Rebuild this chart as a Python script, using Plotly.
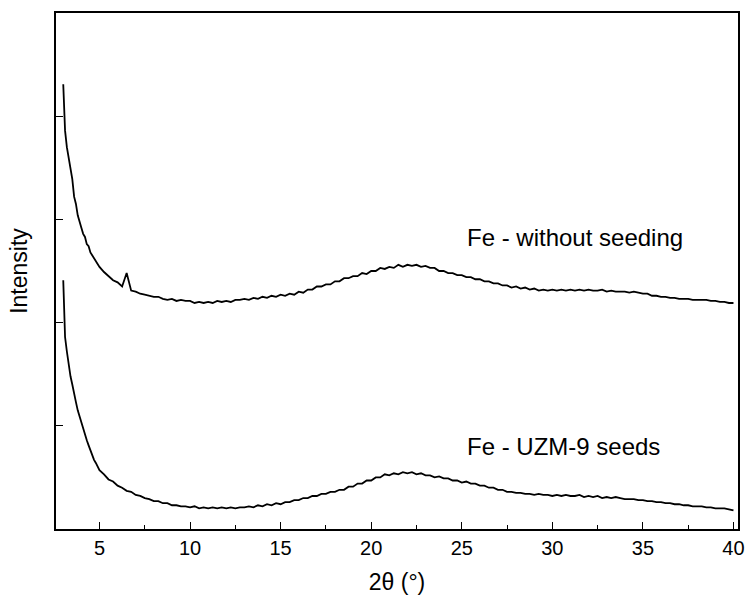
import plotly.graph_objects as go

# 2θ grid (degrees)
two_theta = ([3.0, 3.05, 3.1, 3.2, 3.3, 3.4, 3.5, 3.6, 3.7, 3.8, 3.9,
              4.0, 4.1, 4.2, 4.3, 4.4, 4.5, 4.6, 4.7, 4.8, 4.9, 5.0]
             + [5.0 + 0.25 * k for k in range(1, 141)])

# Intensity (a.u., stacked) – Fe without seeding
without_seeding = [
    4.31, 4.00, 3.86, 3.70, 3.60, 3.47, 3.39, 3.22, 3.15, 3.04, 2.97,
    2.92, 2.86, 2.83, 2.76, 2.74, 2.68, 2.65, 2.62, 2.59, 2.57, 2.54,
    2.49, 2.45, 2.41, 2.39,   # 5.25-6
    2.35, 2.48, 2.31, 2.30,   # 6.25-7
    2.28, 2.27, 2.26, 2.25,   # 7.25-8
    2.25, 2.23, 2.22, 2.23,   # 8.25-9
    2.21, 2.22, 2.21, 2.21,   # 9.25-10
    2.19, 2.20, 2.19, 2.20,   # 10.25-11
    2.19, 2.21, 2.20, 2.21,   # 11.25-12
    2.20, 2.22, 2.22, 2.23,   # 12.25-13
    2.22, 2.24, 2.23, 2.25,   # 13.25-14
    2.24, 2.26, 2.25, 2.27,   # 14.25-15
    2.26, 2.28, 2.27, 2.30,   # 15.25-16
    2.29, 2.32, 2.32, 2.35,   # 16.25-17
    2.35, 2.37, 2.37, 2.40,   # 17.25-18
    2.40, 2.43, 2.43, 2.45,   # 18.25-19
    2.45, 2.48, 2.47, 2.50,   # 19.25-20
    2.50, 2.53, 2.52, 2.54,   # 20.25-21
    2.53, 2.56, 2.54, 2.56,   # 21.25-22
    2.55, 2.56, 2.54, 2.55,   # 22.25-23
    2.53, 2.53, 2.50, 2.50,   # 23.25-24
    2.48, 2.48, 2.46, 2.46,   # 24.25-25
    2.44, 2.44, 2.42, 2.42,   # 25.25-26
    2.40, 2.40, 2.38, 2.38,   # 26.25-27
    2.36, 2.36, 2.34, 2.35,   # 27.25-28
    2.33, 2.34, 2.32, 2.33,   # 28.25-29
    2.31, 2.32, 2.31, 2.32,   # 29.25-30
    2.31, 2.32, 2.31, 2.32,   # 30.25-31
    2.31, 2.32, 2.31, 2.32,   # 31.25-32
    2.31, 2.31, 2.32, 2.30,   # 32.25-33
    2.31, 2.30, 2.30, 2.30,   # 33.25-34
    2.29, 2.30, 2.29, 2.28,   # 34.25-35
    2.28, 2.26, 2.26, 2.25,   # 35.25-36
    2.25, 2.24, 2.24, 2.23,   # 36.25-37
    2.23, 2.23, 2.22, 2.22,   # 37.25-38
    2.22, 2.22, 2.21, 2.21,   # 38.25-39
    2.20, 2.20, 2.19, 2.19,   # 39.25-40
]

# Intensity (a.u., stacked) – Fe with UZM-9 seeds
uzm9_seeds = [
    2.41, 2.01, 1.86, 1.72, 1.58, 1.48, 1.40, 1.30, 1.23, 1.15, 1.09,
    1.02, 0.97, 0.91, 0.86, 0.81, 0.76, 0.71, 0.67, 0.64, 0.60, 0.57,
    0.53, 0.48, 0.46, 0.42,   # 5.25-6
    0.40, 0.37, 0.36, 0.33,   # 6.25-7
    0.32, 0.30, 0.29, 0.27,   # 7.25-8
    0.27, 0.25, 0.25, 0.23,   # 8.25-9
    0.23, 0.22, 0.22, 0.21,   # 9.25-10
    0.22, 0.20, 0.21, 0.20,   # 10.25-11
    0.21, 0.20, 0.21, 0.20,   # 11.25-12
    0.21, 0.20, 0.21, 0.21,   # 12.25-13
    0.22, 0.21, 0.23, 0.22,   # 13.25-14
    0.24, 0.23, 0.25, 0.24,   # 14.25-15
    0.26, 0.26, 0.28, 0.28,   # 15.25-16
    0.30, 0.30, 0.32, 0.32,   # 16.25-17
    0.34, 0.34, 0.36, 0.36,   # 17.25-18
    0.38, 0.38, 0.41, 0.41,   # 18.25-19
    0.44, 0.44, 0.47, 0.47,   # 19.25-20
    0.50, 0.50, 0.53, 0.52,   # 20.25-21
    0.54, 0.53, 0.55, 0.54,   # 21.25-22
    0.55, 0.53, 0.54, 0.52,   # 22.25-23
    0.52, 0.50, 0.51, 0.49,   # 23.25-24
    0.49, 0.47, 0.47, 0.45,   # 24.25-25
    0.46, 0.44, 0.44, 0.42,   # 25.25-26
    0.42, 0.40, 0.40, 0.38,   # 26.25-27
    0.38, 0.36, 0.36, 0.35,   # 27.25-28
    0.35, 0.34, 0.34, 0.33,   # 28.25-29
    0.34, 0.33, 0.33, 0.32,   # 29.25-30
    0.33, 0.32, 0.33, 0.32,   # 30.25-31
    0.32, 0.33, 0.31, 0.32,   # 31.25-32
    0.31, 0.32, 0.30, 0.31,   # 32.25-33
    0.30, 0.31, 0.30, 0.29,   # 33.25-34
    0.29, 0.29, 0.28, 0.28,   # 34.25-35
    0.27, 0.27, 0.26, 0.26,   # 35.25-36
    0.25, 0.25, 0.24, 0.24,   # 36.25-37
    0.23, 0.23, 0.22, 0.22,   # 37.25-38
    0.22, 0.21, 0.21, 0.20,   # 38.25-39
    0.20, 0.20, 0.19, 0.18,   # 39.25-40
]

x_ticks = [5, 10, 15, 20, 25, 30, 35, 40]
series_labels = ["Fe - without seeding", "Fe - UZM-9 seeds"]
label_pos = [(25.2, 2.82), (25.2, 0.80)]

font = "Liberation Sans, Arial, sans-serif"

fig = go.Figure()
for ys in (without_seeding, uzm9_seeds):
    fig.add_trace(go.Scatter(x=two_theta, y=ys, mode="lines",
                             line=dict(color="black", width=1.8),
                             showlegend=False, hoverinfo="skip"))

for txt, (lx, ly) in zip(series_labels, label_pos):
    fig.add_annotation(x=lx, y=ly, text=txt, showarrow=False,
                       xanchor="left", yanchor="middle",
                       font=dict(family=font, size=24, color="black"))

fig.update_layout(
    width=752, height=601,
    margin=dict(l=56, r=7, t=13, b=72),
    paper_bgcolor="white", plot_bgcolor="white",
    font=dict(family=font, color="black"),
    xaxis=dict(range=[2.6, 40.25], tickvals=x_ticks, ticks="inside",
               ticklen=7, tickwidth=1.3, tickcolor="black",
               showline=True, linecolor="black", linewidth=1.5, mirror=True,
               showgrid=False, zeroline=False,
               tickfont=dict(size=20, family=font),
               minor=dict(ticks="inside", ticklen=4, tickwidth=1.2,
                          tickcolor="black", tick0=2.5, dtick=2.5,
                          showgrid=False),
               title=dict(text="2θ (°)", font=dict(size=23, family=font),
                          standoff=16)),
    yaxis=dict(range=[0, 5], tickvals=[1, 2, 3, 4], showticklabels=False,
               ticks="inside", ticklen=7, tickwidth=1.3, tickcolor="black",
               showline=True, linecolor="black", linewidth=1.5, mirror=True,
               showgrid=False, zeroline=False,
               title=dict(text="Intensity", font=dict(size=23, family=font),
                          standoff=20)),
)

fig.write_html("out.html")
